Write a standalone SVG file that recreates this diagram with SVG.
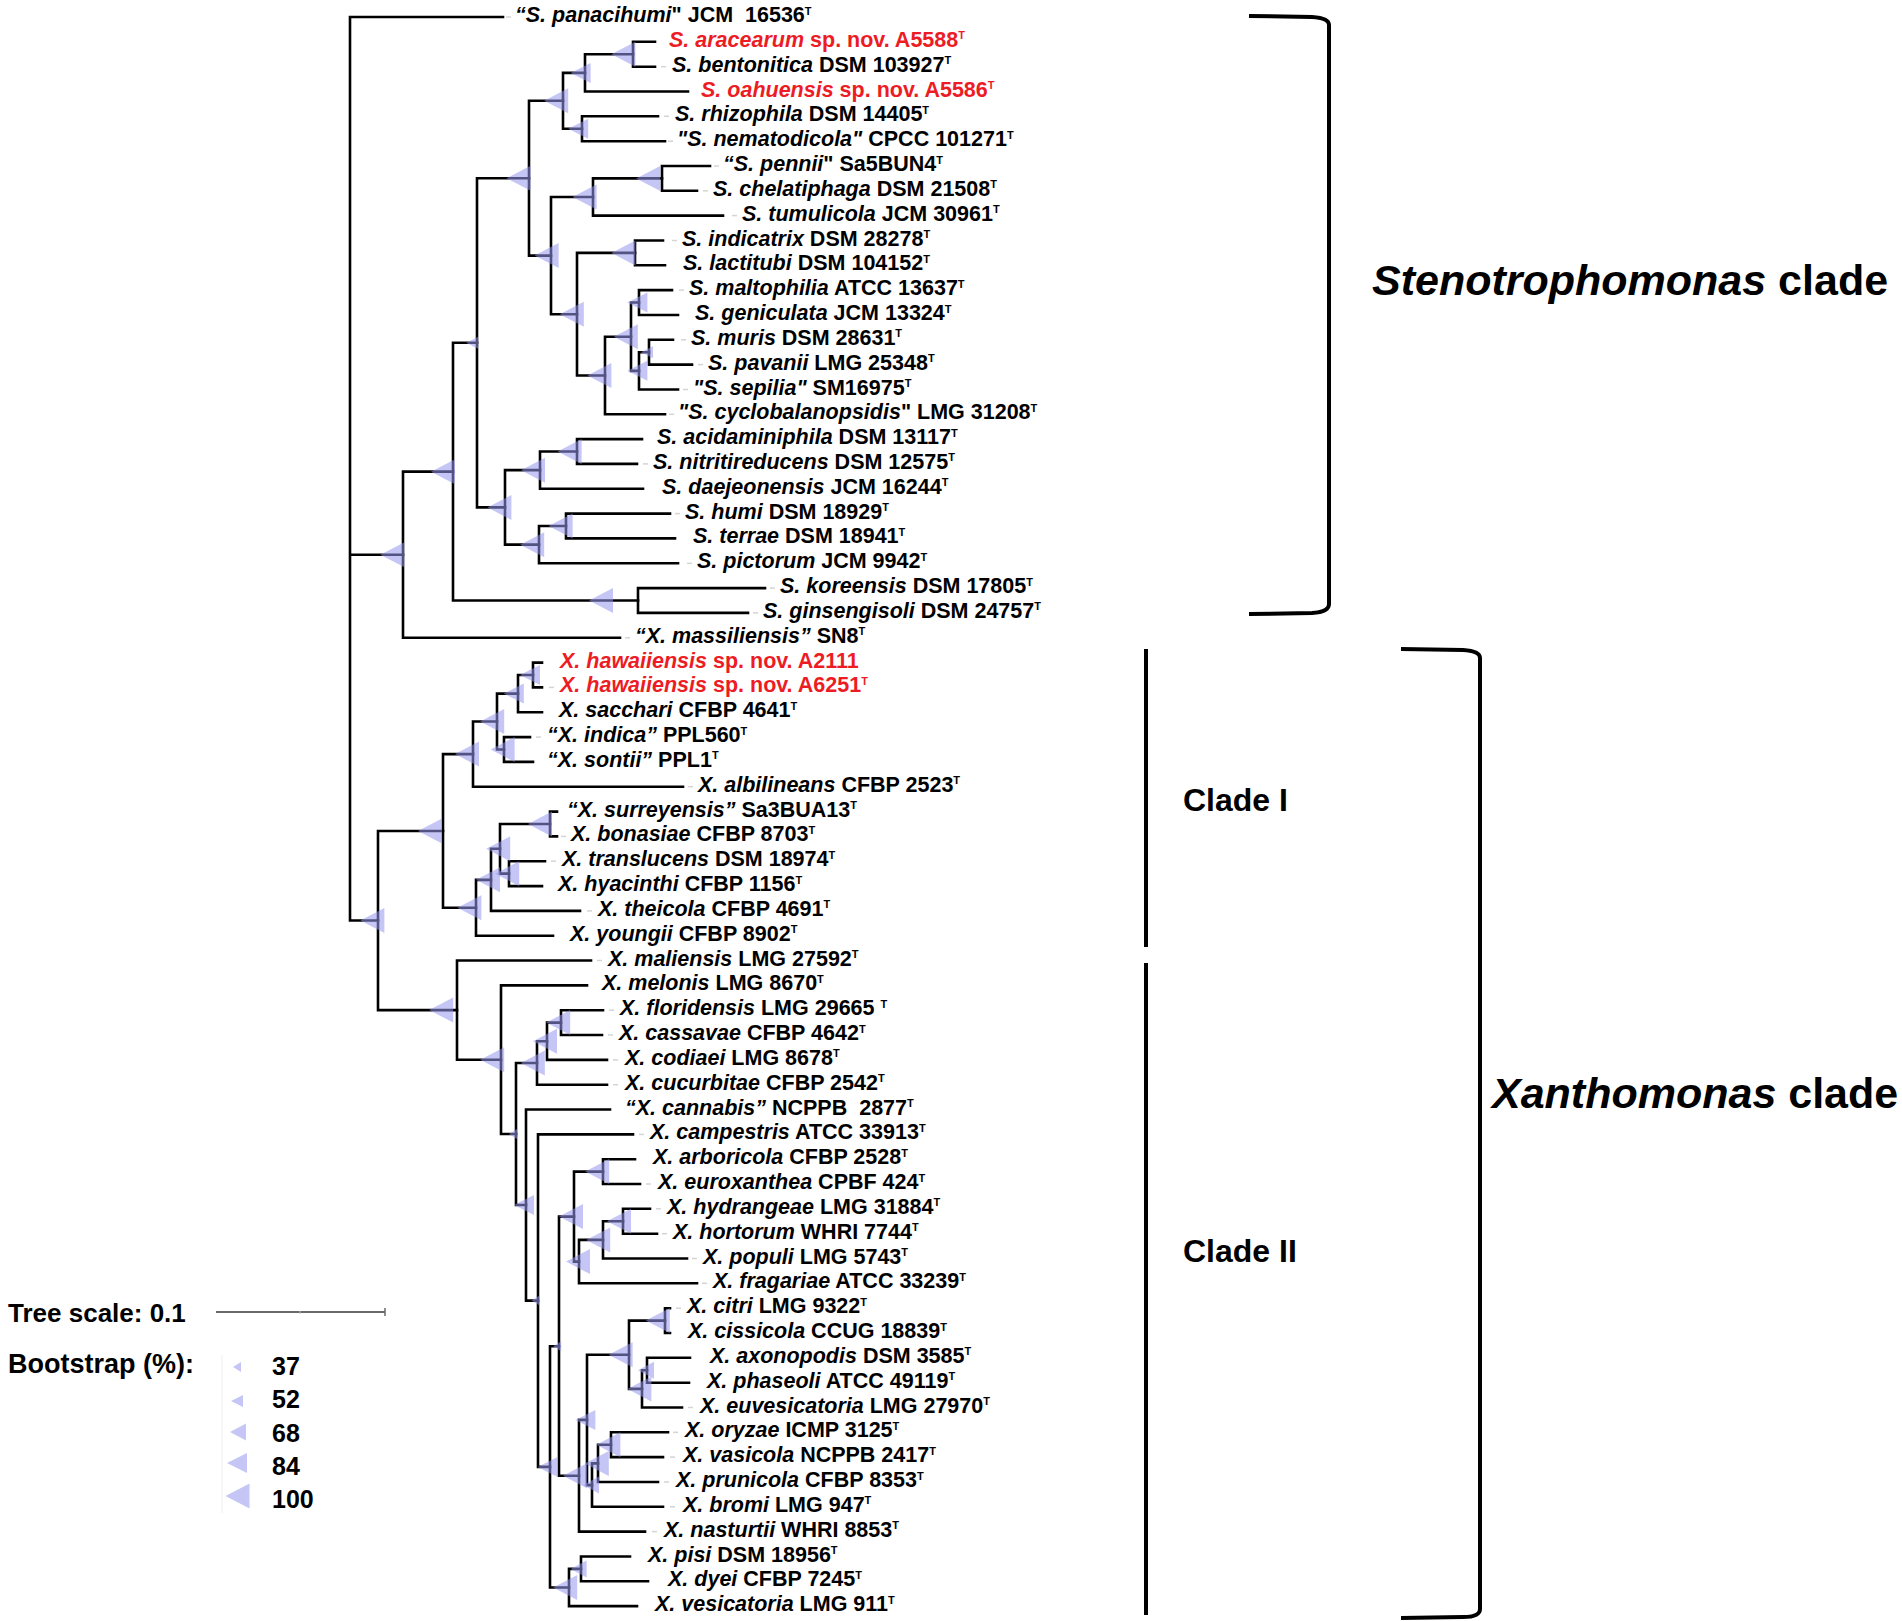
<svg xmlns="http://www.w3.org/2000/svg" width="1902" height="1621" viewBox="0 0 1902 1621">
<style>
.br{fill:none;stroke:#000;stroke-width:2.6;stroke-linejoin:miter;stroke-linecap:square}
.bs{fill:#9898ee;fill-opacity:0.55;stroke:none}
.ds{stroke:#d4d4d4;stroke-width:1.5}
.lb{font-family:'Liberation Sans',Arial,sans-serif;font-weight:bold;font-size:21.5px;fill:#000}
.i{font-style:italic}
.r{fill:#ed1c24}
.t{font-size:11px}
.lg{font-family:'Liberation Sans',Arial,sans-serif;font-weight:bold;fill:#000}
.cl{font-family:'Liberation Sans',Arial,sans-serif;font-weight:bold;font-size:43px;fill:#000}
.cs{font-family:'Liberation Sans',Arial,sans-serif;font-weight:bold;font-size:32px;fill:#000}
.bk{fill:none;stroke:#000;stroke-width:4}
</style>
<defs>
<polygon id="b100" points="-12,0 12,-12.5 12,12.5"/>
<polygon id="b84" points="-10,0 10,-10 10,10"/>
<polygon id="b68" points="-8,0 8,-8.5 8,8.5"/>
<polygon id="b52" points="-6,0 6,-6 6,6"/>
<polygon id="b37" points="-4,0 4,-5 4,5"/>
</defs>
<rect width="1902" height="1621" fill="#fff"/>
<g id="branches" class="br">
<path d="M503 17H350V920.5H378M350 554.7H403"/>
<path d="M453 471.65H403V637.8H620"/>
<path d="M477 342.8H453V600.5H638"/>
<path d="M529 178.2H477V507.4H505"/>
<path d="M563 100.8H529V255.6H551"/>
<path d="M585 72.9H563V128.75H582"/>
<path d="M633 54.25H585V91.5H688"/>
<path d="M655 41.8H633V66.7H655"/>
<path d="M658 116.3H582V141.2H665"/>
<path d="M593 197H551V314.2H577"/>
<path d="M662 178.4H593V215.6H723"/>
<path d="M710 166H662V190.8H697"/>
<path d="M635 252.9H577V375.5H605"/>
<path d="M663 240.5H635V265.3H665"/>
<path d="M631 336.7H605V414.3H665"/>
<path d="M639 302.55H631V370.85H639"/>
<path d="M672 290.1H639V315H678"/>
<path d="M649 352.2H639V389.5H678"/>
<path d="M673 339.8H649V364.6H692"/>
<path d="M540 470.15H505V544.65H539"/>
<path d="M577 451.5H540V488.8H643"/>
<path d="M642 439.1H577V463.9H637"/>
<path d="M566 526H539V563.3H678"/>
<path d="M670 513.6H566V538.4H675"/>
<path d="M765 588.1H638V612.9H748"/>
<path d="M443 830.95H378V1010.1H457"/>
<path d="M473 754.1H443V907.8H476"/>
<path d="M497 721.55H473V786.7H683"/>
<path d="M518 693.6H497V749.5H504"/>
<path d="M533 675H518V712.2H542"/>
<path d="M542 662.6H533V687.4H542"/>
<path d="M530 737.1H504V761.9H533"/>
<path d="M491 879.85H476V935.7H553"/>
<path d="M500 848.8H491V910.9H580"/>
<path d="M550 824H500V873.65H509"/>
<path d="M557 811.6H550V836.4H557"/>
<path d="M545 861.2H509V886.1H542"/>
<path d="M591 960.5H457V1059.7H501"/>
<path d="M587 985.4H501V1134H516"/>
<path d="M537 1063H516V1205H526"/>
<path d="M547 1041.25H537V1084.7H607"/>
<path d="M561 1022.6H547V1059.9H607"/>
<path d="M603 1010.2H561V1035H602"/>
<path d="M610 1109.5H526V1300.6H538"/>
<path d="M633 1134.4H538V1466.9H550"/>
<path d="M559 1346.2H550V1587.5H569"/>
<path d="M574 1216.6H559V1475.8H579"/>
<path d="M603 1171.6H574V1261.6H579"/>
<path d="M635 1159.2H603V1184H640"/>
<path d="M603 1239.9H579V1283.3H697"/>
<path d="M623 1221.25H603V1258.5H687"/>
<path d="M650 1208.8H623V1233.7H657"/>
<path d="M587 1419.9H579V1531.6H645"/>
<path d="M629 1354.7H587V1485.1H592"/>
<path d="M665 1320.6H629V1388.9H642"/>
<path d="M670 1308.2H665V1333H670"/>
<path d="M647 1370.25H642V1407.5H682"/>
<path d="M690 1357.8H647V1382.7H689"/>
<path d="M598 1463.4H592V1506.8H663"/>
<path d="M611 1444.7H598V1482H658"/>
<path d="M668 1432.3H611V1457.1H663"/>
<path d="M581 1568.9H569V1606.1H637"/>
<path d="M630 1556.5H581V1581.3H648"/>
</g>
<g id="bootstrap" class="bs">
<use href="#b100" x="392.4" y="554.7"/>
<use href="#b100" x="372.4" y="920.5"/>
<use href="#b100" x="443" y="471.65"/>
<use href="#b52" x="472.2" y="342.8"/>
<use href="#b100" x="518.6" y="178.2"/>
<use href="#b100" x="556.2" y="100.8"/>
<use href="#b84" x="580.6" y="72.9"/>
<use href="#b100" x="623.4" y="54.25"/>
<use href="#b84" x="578.2" y="128.75"/>
<use href="#b100" x="546.6" y="255.6"/>
<use href="#b100" x="584.6" y="197"/>
<use href="#b100" x="648.2" y="178.4"/>
<use href="#b100" x="571.8" y="314.2"/>
<use href="#b100" x="623.4" y="252.9"/>
<use href="#b100" x="599.4" y="375.5"/>
<use href="#b100" x="625.8" y="336.7"/>
<use href="#b84" x="637.4" y="302.55"/>
<use href="#b84" x="637.4" y="370.85"/>
<use href="#b52" x="647" y="352.2"/>
<use href="#b100" x="499.4" y="507.4"/>
<use href="#b100" x="533" y="470.15"/>
<use href="#b100" x="569.6" y="451.5"/>
<use href="#b100" x="532.2" y="544.65"/>
<use href="#b100" x="560.6" y="526"/>
<use href="#b100" x="601" y="600.5"/>
<use href="#b100" x="430" y="830.95"/>
<use href="#b100" x="467" y="754.1"/>
<use href="#b100" x="492.2" y="721.55"/>
<use href="#b84" x="513.8" y="693.6"/>
<use href="#b84" x="530" y="675"/>
<use href="#b100" x="502.6" y="749.5"/>
<use href="#b100" x="469.4" y="907.8"/>
<use href="#b100" x="488" y="879.85"/>
<use href="#b100" x="498.2" y="848.8"/>
<use href="#b100" x="540" y="824"/>
<use href="#b100" x="507.2" y="873.65"/>
<use href="#b100" x="441.2" y="1010.1"/>
<use href="#b100" x="492.2" y="1059.7"/>
<use href="#b37" x="513" y="1134"/>
<use href="#b100" x="532.8" y="1063"/>
<use href="#b100" x="545" y="1041.25"/>
<use href="#b100" x="558.2" y="1022.6"/>
<use href="#b84" x="524" y="1205"/>
<use href="#b37" x="535.6" y="1300.6"/>
<use href="#b84" x="547.6" y="1466.9"/>
<use href="#b37" x="557.2" y="1346.2"/>
<use href="#b100" x="571" y="1216.6"/>
<use href="#b100" x="597.2" y="1171.6"/>
<use href="#b100" x="578" y="1261.6"/>
<use href="#b100" x="598.2" y="1239.9"/>
<use href="#b100" x="619" y="1221.25"/>
<use href="#b100" x="575" y="1475.8"/>
<use href="#b84" x="585.4" y="1419.9"/>
<use href="#b100" x="620.6" y="1354.7"/>
<use href="#b100" x="657.8" y="1320.6"/>
<use href="#b100" x="639.4" y="1388.9"/>
<use href="#b68" x="646" y="1370.25"/>
<use href="#b68" x="591" y="1485.1"/>
<use href="#b100" x="596.8" y="1463.4"/>
<use href="#b100" x="608.4" y="1444.7"/>
<use href="#b100" x="565.2" y="1587.5"/>
<use href="#b68" x="578.6" y="1568.9"/>
</g>
<g id="leaves" class="lb">
<g id="leaf01"><line class="ds" x1="506" y1="17" x2="511" y2="17"/><text x="515" y="22"><tspan class="i">“S. panacihumi</tspan>" JCM&#160; 16536<tspan class="t" dy="-7.5">T</tspan></text></g>
<g id="leaf02"><text class="r" x="669" y="46.8"><tspan class="i">S. aracearum</tspan> sp. nov. A5588<tspan class="t" dy="-7.5">T</tspan></text></g>
<g id="leaf03"><line class="ds" x1="661" y1="66.7" x2="666" y2="66.7"/><text x="672" y="71.7"><tspan class="i">S. bentonitica</tspan> DSM 103927<tspan class="t" dy="-7.5">T</tspan></text></g>
<g id="leaf04"><text class="r" x="701" y="96.5"><tspan class="i">S. oahuensis</tspan> sp. nov. A5586<tspan class="t" dy="-7.5">T</tspan></text></g>
<g id="leaf05"><line class="ds" x1="664" y1="116.3" x2="669" y2="116.3"/><text x="675" y="121.3"><tspan class="i">S. rhizophila</tspan> DSM 14405<tspan class="t" dy="-7.5">T</tspan></text></g>
<g id="leaf06"><line class="ds" x1="668" y1="141.2" x2="673" y2="141.2"/><text x="677" y="146.2"><tspan class="i">"S. nematodicola"</tspan> CPCC 101271<tspan class="t" dy="-7.5">T</tspan></text></g>
<g id="leaf07"><line class="ds" x1="714" y1="166" x2="719" y2="166"/><text x="723" y="171"><tspan class="i">“S. pennii</tspan>" Sa5BUN4<tspan class="t" dy="-7.5">T</tspan></text></g>
<g id="leaf08"><line class="ds" x1="703" y1="190.8" x2="708" y2="190.8"/><text x="713" y="195.8"><tspan class="i">S. chelatiphaga</tspan> DSM 21508<tspan class="t" dy="-7.5">T</tspan></text></g>
<g id="leaf09"><line class="ds" x1="732" y1="215.6" x2="737" y2="215.6"/><text x="742" y="220.6"><tspan class="i">S. tumulicola</tspan> JCM 30961<tspan class="t" dy="-7.5">T</tspan></text></g>
<g id="leaf10"><line class="ds" x1="672" y1="240.5" x2="677" y2="240.5"/><text x="682" y="245.5"><tspan class="i">S. indicatrix</tspan> DSM 28278<tspan class="t" dy="-7.5">T</tspan></text></g>
<g id="leaf11"><text x="683" y="270.3"><tspan class="i">S. lactitubi</tspan> DSM 104152<tspan class="t" dy="-7.5">T</tspan></text></g>
<g id="leaf12"><line class="ds" x1="679" y1="290.1" x2="684" y2="290.1"/><text x="689" y="295.1"><tspan class="i">S. maltophilia</tspan> ATCC 13637<tspan class="t" dy="-7.5">T</tspan></text></g>
<g id="leaf13"><text x="695" y="320"><tspan class="i">S. geniculata</tspan> JCM 13324<tspan class="t" dy="-7.5">T</tspan></text></g>
<g id="leaf14"><line class="ds" x1="681" y1="339.8" x2="686" y2="339.8"/><text x="691" y="344.8"><tspan class="i">S. muris</tspan> DSM 28631<tspan class="t" dy="-7.5">T</tspan></text></g>
<g id="leaf15"><line class="ds" x1="698" y1="364.6" x2="703" y2="364.6"/><text x="708" y="369.6"><tspan class="i">S. pavanii</tspan> LMG 25348<tspan class="t" dy="-7.5">T</tspan></text></g>
<g id="leaf16"><line class="ds" x1="683" y1="389.5" x2="688" y2="389.5"/><text x="693" y="394.5"><tspan class="i">"S. sepilia"</tspan> SM16975<tspan class="t" dy="-7.5">T</tspan></text></g>
<g id="leaf17"><line class="ds" x1="669" y1="414.3" x2="674" y2="414.3"/><text x="678" y="419.3"><tspan class="i">"S. cyclobalanopsidis</tspan>" LMG 31208<tspan class="t" dy="-7.5">T</tspan></text></g>
<g id="leaf18"><text x="657" y="444.1"><tspan class="i">S. acidaminiphila</tspan> DSM 13117<tspan class="t" dy="-7.5">T</tspan></text></g>
<g id="leaf19"><line class="ds" x1="643" y1="463.9" x2="648" y2="463.9"/><text x="653" y="468.9"><tspan class="i">S. nitritireducens</tspan> DSM 12575<tspan class="t" dy="-7.5">T</tspan></text></g>
<g id="leaf20"><text x="662" y="493.8"><tspan class="i">S. daejeonensis</tspan> JCM 16244<tspan class="t" dy="-7.5">T</tspan></text></g>
<g id="leaf21"><line class="ds" x1="675" y1="513.6" x2="680" y2="513.6"/><text x="685" y="518.6"><tspan class="i">S. humi</tspan> DSM 18929<tspan class="t" dy="-7.5">T</tspan></text></g>
<g id="leaf22"><text x="693" y="543.4"><tspan class="i">S. terrae</tspan> DSM 18941<tspan class="t" dy="-7.5">T</tspan></text></g>
<g id="leaf23"><line class="ds" x1="687" y1="563.3" x2="692" y2="563.3"/><text x="697" y="568.3"><tspan class="i">S. pictorum</tspan> JCM 9942<tspan class="t" dy="-7.5">T</tspan></text></g>
<g id="leaf24"><line class="ds" x1="770" y1="588.1" x2="775" y2="588.1"/><text x="780" y="593.1"><tspan class="i">S. koreensis</tspan> DSM 17805<tspan class="t" dy="-7.5">T</tspan></text></g>
<g id="leaf25"><line class="ds" x1="753" y1="612.9" x2="758" y2="612.9"/><text x="763" y="617.9"><tspan class="i">S. ginsengisoli</tspan> DSM 24757<tspan class="t" dy="-7.5">T</tspan></text></g>
<g id="leaf26"><line class="ds" x1="625" y1="637.8" x2="630" y2="637.8"/><text x="635" y="642.8"><tspan class="i">“X. massiliensis”</tspan> SN8<tspan class="t" dy="-7.5">T</tspan></text></g>
<g id="leaf27"><text class="r" x="560" y="667.6"><tspan class="i">X. hawaiiensis</tspan> sp. nov. A2111</text></g>
<g id="leaf28"><line class="ds" x1="549" y1="687.4" x2="554" y2="687.4"/><text class="r" x="560" y="692.4"><tspan class="i">X. hawaiiensis</tspan> sp. nov. A6251<tspan class="t" dy="-7.5">T</tspan></text></g>
<g id="leaf29"><text x="559" y="717.2"><tspan class="i">X. sacchari</tspan> CFBP 4641<tspan class="t" dy="-7.5">T</tspan></text></g>
<g id="leaf30"><line class="ds" x1="536" y1="737.1" x2="541" y2="737.1"/><text x="547" y="742.1"><tspan class="i">“X. indica”</tspan> PPL560<tspan class="t" dy="-7.5">T</tspan></text></g>
<g id="leaf31"><text x="547" y="766.9"><tspan class="i">“X. sontii”</tspan> PPL1<tspan class="t" dy="-7.5">T</tspan></text></g>
<g id="leaf32"><line class="ds" x1="688" y1="786.7" x2="693" y2="786.7"/><text x="698" y="791.7"><tspan class="i">X. albilineans</tspan> CFBP 2523<tspan class="t" dy="-7.5">T</tspan></text></g>
<g id="leaf33"><text x="567" y="816.6"><tspan class="i">“X. surreyensis”</tspan> Sa3BUA13<tspan class="t" dy="-7.5">T</tspan></text></g>
<g id="leaf34"><line class="ds" x1="561" y1="836.4" x2="566" y2="836.4"/><text x="571" y="841.4"><tspan class="i">X. bonasiae</tspan> CFBP 8703<tspan class="t" dy="-7.5">T</tspan></text></g>
<g id="leaf35"><line class="ds" x1="551" y1="861.2" x2="556" y2="861.2"/><text x="562" y="866.2"><tspan class="i">X. translucens</tspan> DSM 18974<tspan class="t" dy="-7.5">T</tspan></text></g>
<g id="leaf36"><text x="558" y="891.1"><tspan class="i">X. hyacinthi</tspan> CFBP 1156<tspan class="t" dy="-7.5">T</tspan></text></g>
<g id="leaf37"><line class="ds" x1="587" y1="910.9" x2="592" y2="910.9"/><text x="598" y="915.9"><tspan class="i">X. theicola</tspan> CFBP 4691<tspan class="t" dy="-7.5">T</tspan></text></g>
<g id="leaf38"><text x="570" y="940.7"><tspan class="i">X. youngii</tspan> CFBP 8902<tspan class="t" dy="-7.5">T</tspan></text></g>
<g id="leaf39"><line class="ds" x1="597" y1="960.5" x2="602" y2="960.5"/><text x="608" y="965.5"><tspan class="i">X. maliensis</tspan> LMG 27592<tspan class="t" dy="-7.5">T</tspan></text></g>
<g id="leaf40"><text x="602" y="990.4"><tspan class="i">X. melonis</tspan> LMG 8670<tspan class="t" dy="-7.5">T</tspan></text></g>
<g id="leaf41"><line class="ds" x1="609" y1="1010.2" x2="614" y2="1010.2"/><text x="620" y="1015.2"><tspan class="i">X. floridensis</tspan> LMG 29665 <tspan class="t" dy="-7.5">T</tspan></text></g>
<g id="leaf42"><line class="ds" x1="608" y1="1035" x2="613" y2="1035"/><text x="619" y="1040"><tspan class="i">X. cassavae</tspan> CFBP 4642<tspan class="t" dy="-7.5">T</tspan></text></g>
<g id="leaf43"><line class="ds" x1="613" y1="1059.9" x2="618" y2="1059.9"/><text x="625" y="1064.9"><tspan class="i">X. codiaei</tspan> LMG 8678<tspan class="t" dy="-7.5">T</tspan></text></g>
<g id="leaf44"><line class="ds" x1="613" y1="1084.7" x2="618" y2="1084.7"/><text x="625" y="1089.7"><tspan class="i">X. cucurbitae</tspan> CFBP 2542<tspan class="t" dy="-7.5">T</tspan></text></g>
<g id="leaf45"><text x="625" y="1114.5"><tspan class="i">“X. cannabis”</tspan> NCPPB&#160; 2877<tspan class="t" dy="-7.5">T</tspan></text></g>
<g id="leaf46"><line class="ds" x1="639" y1="1134.4" x2="644" y2="1134.4"/><text x="650" y="1139.4"><tspan class="i">X. campestris</tspan> ATCC 33913<tspan class="t" dy="-7.5">T</tspan></text></g>
<g id="leaf47"><text x="653" y="1164.2"><tspan class="i">X. arboricola</tspan> CFBP 2528<tspan class="t" dy="-7.5">T</tspan></text></g>
<g id="leaf48"><line class="ds" x1="646" y1="1184" x2="651" y2="1184"/><text x="658" y="1189"><tspan class="i">X. euroxanthea</tspan> CPBF 424<tspan class="t" dy="-7.5">T</tspan></text></g>
<g id="leaf49"><line class="ds" x1="656" y1="1208.8" x2="661" y2="1208.8"/><text x="667" y="1213.8"><tspan class="i">X. hydrangeae</tspan> LMG 31884<tspan class="t" dy="-7.5">T</tspan></text></g>
<g id="leaf50"><line class="ds" x1="662" y1="1233.7" x2="667" y2="1233.7"/><text x="673" y="1238.7"><tspan class="i">X. hortorum</tspan> WHRI 7744<tspan class="t" dy="-7.5">T</tspan></text></g>
<g id="leaf51"><line class="ds" x1="692" y1="1258.5" x2="697" y2="1258.5"/><text x="703" y="1263.5"><tspan class="i">X. populi</tspan> LMG 5743<tspan class="t" dy="-7.5">T</tspan></text></g>
<g id="leaf52"><line class="ds" x1="702" y1="1283.3" x2="707" y2="1283.3"/><text x="713" y="1288.3"><tspan class="i">X. fragariae</tspan> ATCC 33239<tspan class="t" dy="-7.5">T</tspan></text></g>
<g id="leaf53"><line class="ds" x1="676" y1="1308.2" x2="681" y2="1308.2"/><text x="687" y="1313.2"><tspan class="i">X. citri</tspan> LMG 9322<tspan class="t" dy="-7.5">T</tspan></text></g>
<g id="leaf54"><text x="688" y="1338"><tspan class="i">X. cissicola</tspan> CCUG 18839<tspan class="t" dy="-7.5">T</tspan></text></g>
<g id="leaf55"><text x="710" y="1362.8"><tspan class="i">X. axonopodis</tspan> DSM 3585<tspan class="t" dy="-7.5">T</tspan></text></g>
<g id="leaf56"><text x="707" y="1387.7"><tspan class="i">X. phaseoli</tspan> ATCC 49119<tspan class="t" dy="-7.5">T</tspan></text></g>
<g id="leaf57"><line class="ds" x1="688" y1="1407.5" x2="693" y2="1407.5"/><text x="700" y="1412.5"><tspan class="i">X. euvesicatoria</tspan> LMG 27970<tspan class="t" dy="-7.5">T</tspan></text></g>
<g id="leaf58"><line class="ds" x1="673" y1="1432.3" x2="678" y2="1432.3"/><text x="685" y="1437.3"><tspan class="i">X. oryzae</tspan> ICMP 3125<tspan class="t" dy="-7.5">T</tspan></text></g>
<g id="leaf59"><line class="ds" x1="670" y1="1457.1" x2="675" y2="1457.1"/><text x="683" y="1462.1"><tspan class="i">X. vasicola</tspan> NCPPB 2417<tspan class="t" dy="-7.5">T</tspan></text></g>
<g id="leaf60"><line class="ds" x1="664" y1="1482" x2="669" y2="1482"/><text x="676" y="1487"><tspan class="i">X. prunicola</tspan> CFBP 8353<tspan class="t" dy="-7.5">T</tspan></text></g>
<g id="leaf61"><line class="ds" x1="670" y1="1506.8" x2="675" y2="1506.8"/><text x="683" y="1511.8"><tspan class="i">X. bromi</tspan> LMG 947<tspan class="t" dy="-7.5">T</tspan></text></g>
<g id="leaf62"><line class="ds" x1="652" y1="1531.6" x2="657" y2="1531.6"/><text x="664" y="1536.6"><tspan class="i">X. nasturtii</tspan> WHRI 8853<tspan class="t" dy="-7.5">T</tspan></text></g>
<g id="leaf63"><text x="648" y="1561.5"><tspan class="i">X. pisi</tspan> DSM 18956<tspan class="t" dy="-7.5">T</tspan></text></g>
<g id="leaf64"><text x="668" y="1586.3"><tspan class="i">X. dyei</tspan> CFBP 7245<tspan class="t" dy="-7.5">T</tspan></text></g>
<g id="leaf65"><text x="655" y="1611.1"><tspan class="i">X. vesicatoria</tspan> LMG 911<tspan class="t" dy="-7.5">T</tspan></text></g>
</g>
<g id="clades">
<path class="bk" d="M1249 16L1312 17Q1329 18 1329 25V604Q1329 612 1312 613L1249 614"/>
<text class="cl" x="1372" y="295"><tspan class="i">Stenotrophomonas</tspan> clade</text>
<path class="bk" d="M1401 649L1463 650Q1480 651 1480 658V1609Q1480 1617 1463 1617L1401 1618"/>
<text class="cl" x="1492" y="1108"><tspan class="i">Xanthomonas</tspan> clade</text>
<line class="bk" x1="1146" y1="649" x2="1146" y2="947"/>
<line class="bk" x1="1146" y1="963" x2="1146" y2="1615"/>
<text class="cs" x="1183" y="811">Clade I</text>
<text class="cs" x="1183" y="1262">Clade II</text>
</g>
<g id="legend">
<text class="lg" x="8" y="1322" font-size="26">Tree scale: 0.1</text>
<line x1="216" y1="1312" x2="385" y2="1312" stroke="#6a6a6a" stroke-width="2"/>
<line x1="385" y1="1308" x2="385" y2="1316" stroke="#6a6a6a" stroke-width="1.5"/>
<line x1="300" y1="1311" x2="300" y2="1314" stroke="#bbb" stroke-width="1"/>
<text class="lg" x="8" y="1373" font-size="27">Bootstrap (%):</text>
<line x1="222" y1="1355" x2="222" y2="1513" stroke="#efefef" stroke-width="1"/>
<g class="bs">
<use href="#b37" x="237" y="1367"/>
<use href="#b52" x="237" y="1401"/>
<use href="#b68" x="238" y="1432"/>
<use href="#b84" x="237" y="1463"/>
<use href="#b100" x="237.5" y="1496"/>
</g>
<text class="lg" x="272" y="1375" font-size="25">37</text>
<text class="lg" x="272" y="1408" font-size="25">52</text>
<text class="lg" x="272" y="1442" font-size="25">68</text>
<text class="lg" x="272" y="1475" font-size="25">84</text>
<text class="lg" x="272" y="1508" font-size="25">100</text>
</g>
</svg>
